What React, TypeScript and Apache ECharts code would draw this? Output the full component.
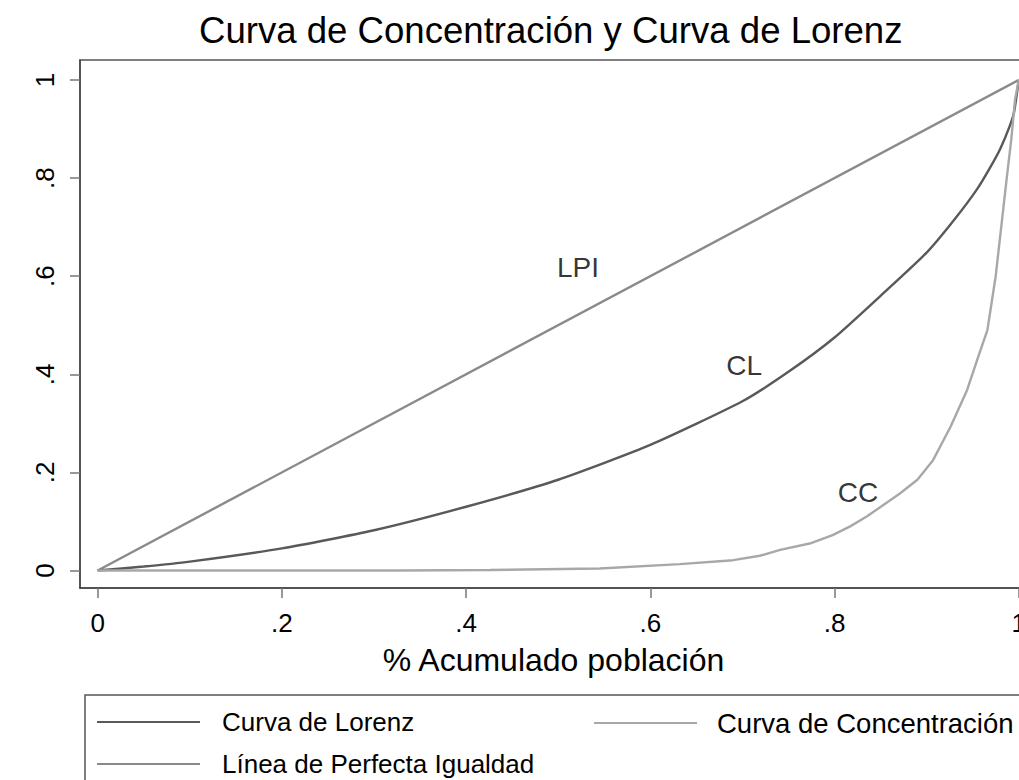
import React, { useEffect, useRef } from "react";
import * as echarts from "echarts";

const FONT = "'Liberation Sans', Arial, Helvetica, sans-serif";

const titleText = "Curva de Concentración y Curva de Lorenz";
const xAxisName = "% Acumulado población";

const xTicks = [0, 0.2, 0.4, 0.6, 0.8, 1];
const xTickLabels = ["0", ".2", ".4", ".6", ".8", "1"];
const yTicks = [0, 0.2, 0.4, 0.6, 0.8, 1];
const yTickLabels = ["0", ".2", ".4", ".6", ".8", "1"];

const seriesNames = ["Curva de Lorenz", "Curva de Concentración", "Línea de Perfecta Igualdad"];

const lorenzX = [0, 0.05, 0.1, 0.2, 0.3, 0.4, 0.5, 0.6, 0.7, 0.75, 0.8, 0.85, 0.9, 0.93, 0.955, 0.97, 0.98, 0.99, 0.995, 1];
const lorenzY = [0, 0.008, 0.018, 0.045, 0.082, 0.13, 0.185, 0.256, 0.345, 0.405, 0.475, 0.56, 0.648, 0.715, 0.778, 0.825, 0.86, 0.905, 0.935, 1];

const ccX = [0, 0.328, 0.426, 0.545, 0.632, 0.69, 0.719, 0.741, 0.773, 0.798, 0.817, 0.835, 0.871, 0.89, 0.907, 0.926, 0.944, 0.955, 0.966, 0.975, 0.981, 0.987, 0.992, 0.996, 1];
const ccY = [0, 0.0, 0.001, 0.004, 0.013, 0.021, 0.03, 0.042, 0.055, 0.072, 0.09, 0.11, 0.157, 0.185, 0.225, 0.293, 0.368, 0.43, 0.49, 0.6, 0.7, 0.8, 0.88, 0.96, 1];

const lpiX = [0, 1];
const lpiY = [0, 1];

const annotationLabels = ["LPI", "CL", "CC"];
const annotationX = [0.5215, 0.702, 0.8255];
const annotationY = [0.617, 0.417, 0.158];

const zip = (xs: number[], ys: number[]) => xs.map((x, i) => [x, ys[i]]);

const fmt = (ticks: number[], labels: string[]) => (v: number) => {
  const i = ticks.findIndex((t) => Math.abs(t - v) < 1e-6);
  return i >= 0 ? labels[i] : "";
};

export default function App() {
  const ref = useRef<HTMLDivElement>(null);
  useEffect(() => {
    if (!ref.current) return;
    const chart = echarts.init(ref.current, null, { renderer: "svg" });
    const legendBase = {
      padding: 0,
      itemWidth: 103,
      itemHeight: 2,
      icon: "rect",
      selectedMode: false,
    };
    const legendText = (size: number, gap: number) => ({
      fontSize: size,
      color: "#000",
      fontFamily: FONT,
      padding: [0, 0, 0, gap],
    });
    chart.setOption({
      animation: false,
      backgroundColor: "#fff",
      textStyle: { fontFamily: FONT },
      title: {
        text: titleText,
        left: 199,
        top: 12,
        padding: 0,
        textStyle: { fontSize: 36.6, fontWeight: "normal", color: "#000", fontFamily: FONT },
      },
      grid: {
        left: 80,
        top: 60,
        right: -8,
        bottom: 192,
        show: true,
        borderColor: "#555",
        borderWidth: 1.5,
        containLabel: false,
        outerBoundsMode: "none",
      },
      xAxis: {
        type: "value",
        min: -0.0192,
        max: 1.009,
        axisLine: { show: true, onZero: false, lineStyle: { color: "#444", width: 1.5 } },
        axisTick: { show: true, customValues: xTicks, length: 10, lineStyle: { color: "#777", width: 1.5 } },
        axisLabel: {
          customValues: xTicks,
          formatter: fmt(xTicks, xTickLabels),
          fontSize: 26,
          margin: 22,
          color: "#000",
          fontFamily: FONT,
        },
        splitLine: { show: false },
        name: xAxisName,
        nameLocation: "middle",
        nameGap: 56,
        nameTextStyle: { fontSize: 32, color: "#000", fontFamily: FONT },
      },
      yAxis: {
        type: "value",
        min: -0.0357,
        max: 1.0408,
        axisLine: { show: true, onZero: false, lineStyle: { color: "#444", width: 1.5 } },
        axisTick: { show: true, customValues: yTicks, length: 10, lineStyle: { color: "#777", width: 1.5 } },
        axisLabel: {
          customValues: yTicks,
          formatter: fmt(yTicks, yTickLabels),
          fontSize: 26,
          margin: 22,
          rotate: 90,
          color: "#000",
          fontFamily: FONT,
        },
        splitLine: { show: false },
      },
      legend: [
        { ...legendBase, data: [seriesNames[0]], left: 97, top: 709, textStyle: legendText(26, 17) },
        { ...legendBase, data: [seriesNames[1]], left: 594, top: 709, textStyle: legendText(27.5, 15) },
        { ...legendBase, data: [seriesNames[2]], left: 97, top: 751, textStyle: legendText(26, 17) },
      ],
      graphic: [
        {
          type: "rect",
          shape: { x: 85, y: 695, width: 1000, height: 120 },
          style: { fill: "none", stroke: "#555", lineWidth: 1.5 },
          silent: true,
        },
      ],
      series: [
        {
          name: seriesNames[2],
          type: "line",
          data: zip(lpiX, lpiY),
          showSymbol: false,
          color: "#8a8a8a",
          lineStyle: { width: 2.4, color: "#8a8a8a" },
        },
        {
          name: seriesNames[0],
          type: "line",
          data: zip(lorenzX, lorenzY),
          showSymbol: false,
          smooth: 0.2,
          color: "#595959",
          lineStyle: { width: 2.4, color: "#595959" },
        },
        {
          name: seriesNames[1],
          type: "line",
          data: zip(ccX, ccY),
          showSymbol: false,
          color: "#a8a8a8",
          lineStyle: { width: 2.4, color: "#a8a8a8" },
        },
        {
          name: "annotations",
          type: "scatter",
          data: annotationX.map((x, i) => [x, annotationY[i], annotationLabels[i]]),
          symbolSize: 2,
          itemStyle: { color: "rgba(0,0,0,0)" },
          silent: true,
          z: 5,
          label: {
            show: true,
            position: "inside",
            formatter: (p: any) => p.data[2],
            fontSize: 28,
            color: "#000",
            fontFamily: FONT,
          },
        },
      ],
    });
    return () => chart.dispose();
  }, []);
  return (
    <div
      ref={ref}
      style={{ position: "fixed", left: 0, top: 0, width: 1019, height: 780, background: "#fff" }}
    />
  );
}
